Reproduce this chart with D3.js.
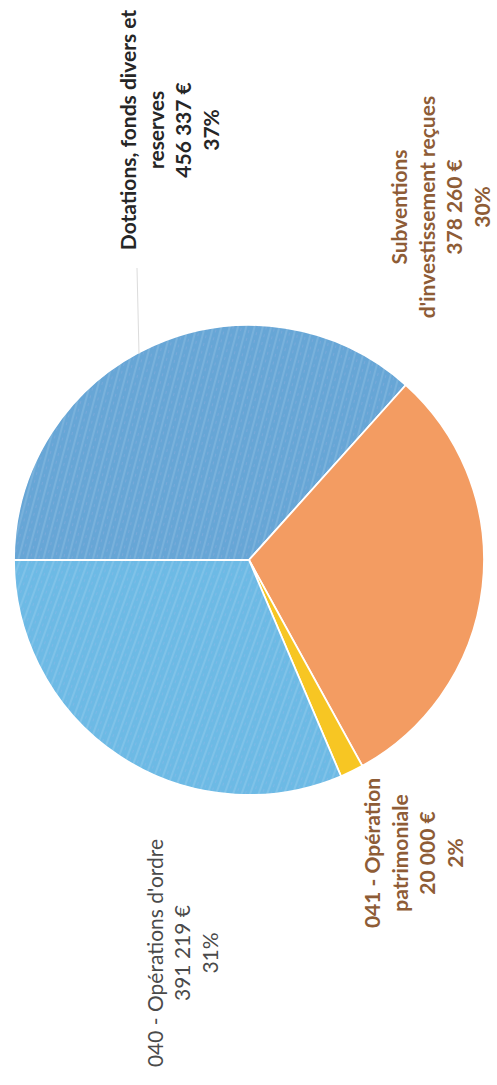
<!DOCTYPE html>
<html><head><meta charset="utf-8">
<script src="https://cdn.jsdelivr.net/npm/d3@7"></script>
<style>html,body{margin:0;padding:0;background:#fff;}svg{display:block;}</style>
</head><body>
<script>
// ---- data ----
const categories = ["Dotations, fonds divers et reserves", "Subventions d'investissement reçues", "041 - Opération patrimoniale", "040 - Opérations d'ordre"];
const values = [456337, 378260, 20000, 391219];
const valueLabels = ["456 337 €", "378 260 €", "20 000 €", "391 219 €"];
const percentLabels = ["37%", "30%", "2%", "31%"];
const labelLines = [
  ["Dotations, fonds divers et", "reserves"],
  ["Subventions", "d'investissement reçues"],
  ["041 - Opération", "patrimoniale"],
  ["040 - Opérations d'ordre"]
];

// ---- style / layout ----
const W = 497, H = 1085;
const cx = 249, cy = 560, R = 235;
const colors = ["#67a6d6", "#f39c62", "#f7c623", "#6dbae5"];
const textColors = ["#262626", "#8e5c36", "#8e5c36", "#4a4a4a"];
const weights = ["bold", "bold", "bold", "normal"];
const labelCenters = [[170, 130], [441, 207], [414, 853], [183, 953]];
const lineH = 27.5;
const fontSize = 21;

const svg = d3.select("body").append("svg").attr("width", W).attr("height", H);

const defs = svg.append("defs");
function pattern(id, base, angle) {
  const p = defs.append("pattern").attr("id", id).attr("patternUnits", "userSpaceOnUse")
    .attr("width", 8).attr("height", 8).attr("patternTransform", `rotate(${angle})`);
  p.append("rect").attr("width", 8).attr("height", 8).attr("fill", base);
  p.append("rect").attr("x", 0).attr("width", 2).attr("height", 8).attr("fill", "#ffffff").attr("opacity", 0.12);
  p.append("rect").attr("x", 4).attr("y", 2).attr("width", 1).attr("height", 3).attr("fill", "#c8b8e8").attr("opacity", 0.18);
  return `url(#${id})`;
}
const fills = [pattern("p0", colors[0], 15), colors[1], colors[2], pattern("p3", colors[3], 20)];

const pie = d3.pie().sort(null).startAngle(-Math.PI / 2).endAngle(1.5 * Math.PI);
const arcs = pie(values);
const arc = d3.arc().innerRadius(0).outerRadius(R);

const g = svg.append("g").attr("transform", `translate(${cx},${cy})`);
g.selectAll("path").data(arcs).join("path")
  .attr("d", arc)
  .attr("fill", (d, i) => fills[i])
  .attr("stroke", "#ffffff")
  .attr("stroke-width", 1.8);

// faint leader line from first label to its slice
const lx = 138;
svg.append("line")
  .attr("x1", lx - 1).attr("y1", 268)
  .attr("x2", lx + 1).attr("y2", cy - Math.sqrt(R * R - (lx - cx) * (lx - cx)) + 1)
  .attr("stroke", "#dcdcdc").attr("stroke-width", 1);

// labels (rotated -90)
categories.forEach((c, i) => {
  const lines = labelLines[i].concat([valueLabels[i], percentLabels[i]]);
  const [x, y] = labelCenters[i];
  const n = lines.length;
  const t = svg.append("text")
    .attr("transform", `translate(${x},${y}) rotate(-90)`)
    .attr("text-anchor", "middle")
    .attr("font-family", "Lato, 'Open Sans', sans-serif")
    .attr("font-size", fontSize)
    .attr("font-weight", weights[i])
    .attr("fill", textColors[i]);
  lines.forEach((l, j) => {
    t.append("tspan").attr("x", 0).attr("y", (j - (n - 1) / 2) * lineH + fontSize * 0.35).text(l);
  });
});
</script>
</body></html>
